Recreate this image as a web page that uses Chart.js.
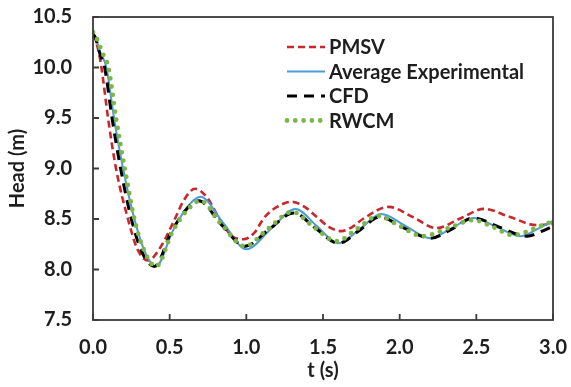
<!DOCTYPE html>
<html><head><meta charset="utf-8">
<script src="https://cdn.jsdelivr.net/npm/chart.js@4.4.0/dist/chart.umd.min.js"></script>
<style>html,body{margin:0;padding:0;background:#fff}#wrap{width:571px;height:387px}</style>
</head><body><div id="wrap"><canvas id="c" width="571" height="387"></canvas></div>
<script>
const xTicks = [0, 0.5, 1.0, 1.5, 2.0, 2.5, 3.0];
const yTicks = [7.5, 8.0, 8.5, 9.0, 9.5, 10.0, 10.5];
const seriesNames = ['PMSV', 'Average Experimental', 'CFD', 'RWCM'];

const tPMSV = [0, 0.02, 0.053, 0.098, 0.15, 0.228, 0.29, 0.36, 0.44, 0.54, 0.59, 0.665, 0.74, 0.83, 0.915, 0.98, 1.05, 1.12, 1.20, 1.296, 1.38, 1.46, 1.54, 1.62, 1.69, 1.76, 1.93, 2.085, 2.24, 2.395, 2.55, 2.72, 2.89, 3.0];
const hPMSV = [10.33, 10.26, 10.02, 9.50, 9.00, 8.50, 8.20, 8.09, 8.22, 8.52, 8.68, 8.80, 8.72, 8.49, 8.32, 8.30, 8.36, 8.52, 8.62, 8.67, 8.62, 8.52, 8.42, 8.38, 8.42, 8.50, 8.62, 8.52, 8.41, 8.505, 8.60, 8.52, 8.44, 8.45];

const tExp = [0, 0.02, 0.045, 0.087, 0.137, 0.196, 0.27, 0.34, 0.41, 0.52, 0.61, 0.70, 0.85, 1.00, 1.16, 1.32, 1.46, 1.60, 1.74, 1.88, 2.04, 2.20, 2.34, 2.48, 2.635, 2.79, 2.92, 3.0];
const hExp = [10.33, 10.28, 10.16, 10.0, 9.5, 9.0, 8.5, 8.17, 8.03, 8.38, 8.61, 8.72, 8.46, 8.20, 8.40, 8.60, 8.43, 8.26, 8.40, 8.55, 8.43, 8.31, 8.41, 8.51, 8.42, 8.33, 8.42, 8.48];

const tCFD = [0, 0.015, 0.044, 0.076, 0.124, 0.18, 0.25, 0.32, 0.40, 0.51, 0.60, 0.69, 0.84, 0.99, 1.15, 1.31, 1.45, 1.60, 1.74, 1.87, 2.03, 2.20, 2.34, 2.48, 2.65, 2.83, 2.93, 3.0];
const hCFD = [10.33, 10.30, 10.14, 10.0, 9.5, 9.0, 8.5, 8.17, 8.03, 8.37, 8.58, 8.68, 8.44, 8.23, 8.40, 8.56, 8.41, 8.26, 8.39, 8.52, 8.41, 8.31, 8.40, 8.51, 8.42, 8.33, 8.38, 8.43];

const tRWCM = [0, 0.03, 0.06, 0.10, 0.15, 0.207, 0.27, 0.33, 0.41, 0.52, 0.61, 0.70, 0.84, 0.99, 1.14, 1.30, 1.44, 1.59, 1.72, 1.86, 2.00, 2.15, 2.32, 2.48, 2.61, 2.74, 2.87, 3.0];
const hRWCM = [10.35, 10.27, 10.15, 10.0, 9.5, 9.0, 8.5, 8.2, 8.03, 8.38, 8.58, 8.68, 8.44, 8.23, 8.40, 8.57, 8.42, 8.28, 8.40, 8.53, 8.43, 8.33, 8.41, 8.49, 8.42, 8.34, 8.40, 8.48];

const pts = (t, h) => t.map((v, i) => ({x: v, y: h[i]}));
const FONT = 'Lato, "Open Sans", sans-serif';
const FS = 20;
const TEXT = '#1e1e1e';

const datasets = [
  {label: seriesNames[0], data: pts(tPMSV, hPMSV), borderColor: '#C8272D', borderWidth: 2.6, borderDash: [7, 4], borderCapStyle: 'butt', order: 4},
  {label: seriesNames[1], data: pts(tExp, hExp), borderColor: '#4A9BD8', borderWidth: 2, borderDash: [], borderCapStyle: 'butt', order: 3},
  {label: seriesNames[2], data: pts(tCFD, hCFD), borderColor: '#000000', borderWidth: 3, borderDash: [10, 7], borderCapStyle: 'butt', order: 2},
  {label: seriesNames[3], data: pts(tRWCM, hRWCM), borderColor: '#7DB646', borderWidth: 4.8, borderDash: [0, 8.3], borderCapStyle: 'round', order: 1}
].map(d => Object.assign(d, {pointRadius: 0, fill: false, cubicInterpolationMode: 'monotone', borderJoinStyle: 'round'}));

const framePlugin = {
  id: 'frame',
  afterDraw(chart) {
    const {ctx, chartArea: a, scales: {x, y}} = chart;
    ctx.save();
    ctx.strokeStyle = '#3a3a3a';
    ctx.lineWidth = 1.8;
    ctx.setLineDash([]);
    ctx.strokeRect(a.left, a.top, a.right - a.left, a.bottom - a.top);
    ctx.beginPath();
    x.ticks.forEach(t => { const px = x.getPixelForValue(t.value); ctx.moveTo(px, a.bottom); ctx.lineTo(px, a.bottom - 6); });
    y.ticks.forEach(t => { const py = y.getPixelForValue(t.value); ctx.moveTo(a.left, py); ctx.lineTo(a.left + 6, py); });
    ctx.stroke();
    // legend
    const lx = 287, ly = 47, gap = 24.5, len = 38;
    chart.data.datasets.forEach((d, i) => {
      const yy = ly + i * gap;
      ctx.beginPath();
      ctx.strokeStyle = d.borderColor;
      ctx.lineWidth = d.borderWidth;
      ctx.lineCap = d.borderCapStyle;
      ctx.setLineDash(d.borderDash);
      ctx.moveTo(lx, yy);
      ctx.lineTo(lx + len, yy);
      ctx.stroke();
      ctx.setLineDash([]);
      ctx.fillStyle = TEXT;
      ctx.font = 'bold ' + FS + 'px ' + FONT;
      ctx.textBaseline = 'middle';
      ctx.textAlign = 'left';
      ctx.fillText(d.label, lx + len + 4, yy + 1);
    });
    ctx.restore();
  }
};

const zeroPad = s => { s.paddingLeft = 0; s.paddingRight = 0; s.paddingTop = 0; s.paddingBottom = 0; };

new Chart(document.getElementById('c'), {
  type: 'line',
  data: {datasets},
  options: {
    responsive: false,
    animation: false,
    devicePixelRatio: 1,
    layout: {padding: {top: 17, right: 18, left: 0, bottom: 0}},
    plugins: {legend: {display: false}, tooltip: {enabled: false}},
    scales: {
      x: {
        type: 'linear', min: 0, max: 3,
        afterBuildTicks: s => { s.ticks = xTicks.map(v => ({value: v})); },
        afterFit: s => { s.height = 67; zeroPad(s); },
        grid: {display: false, drawTicks: false},
        border: {display: false},
        ticks: {padding: 16, color: TEXT, font: {family: FONT, size: FS, weight: 'bold'}, callback: v => Number(v).toFixed(1), maxRotation: 0},
        title: {display: true, text: 't (s)', color: TEXT, font: {family: FONT, size: FS, weight: 'bold'}, padding: {top: 0, bottom: 4}}
      },
      y: {
        type: 'linear', min: 7.5, max: 10.5,
        afterBuildTicks: s => { s.ticks = yTicks.map(v => ({value: v})); },
        afterFit: s => { s.width = 93; zeroPad(s); },
        grid: {display: false, drawTicks: false},
        border: {display: false},
        ticks: {padding: 21, color: TEXT, font: {family: FONT, size: FS, weight: 'bold'}, callback: v => Number(v).toFixed(1)},
        title: {display: true, text: 'Head (m)', color: TEXT, font: {family: FONT, size: FS, weight: 'bold'}, padding: {top: 6, bottom: 0}}
      }
    }
  },
  plugins: [framePlugin]
});
</script>
</body></html>
